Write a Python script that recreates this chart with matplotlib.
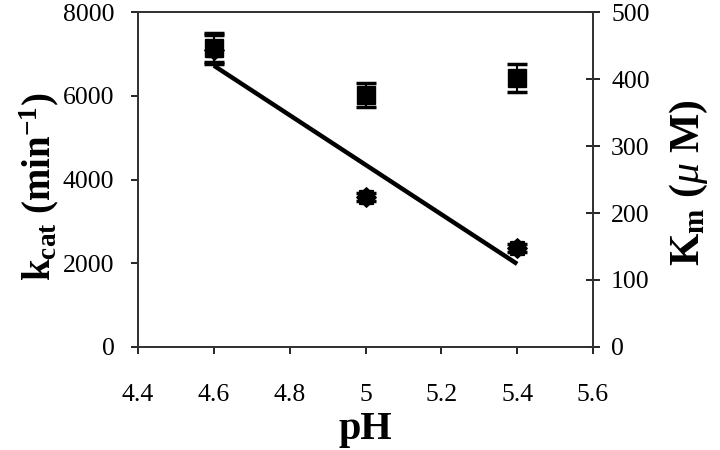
import numpy as np
import matplotlib
matplotlib.use("Agg")
import matplotlib.pyplot as plt
from matplotlib.path import Path

plt.rcParams["font.family"] = ["Liberation Serif", "DejaVu Serif"]
plt.rcParams["mathtext.fontset"] = "custom"
plt.rcParams["mathtext.rm"] = "Liberation Serif"
plt.rcParams["mathtext.it"] = "Liberation Serif:italic"
plt.rcParams["mathtext.bf"] = "Liberation Serif:bold"

# data
ph = [4.6, 5.0, 5.4]
kcat = [7150, 6010, 6420]          # min^-1, squares (left axis)
kcat_err = [340, 290, 330]
km = [444, 224, 148]               # uM, diamonds (right axis)
km_err = [21, 6, 6]

xticks = [4.4, 4.6, 4.8, 5.0, 5.2, 5.4, 5.6]
xtick_labels = ["4.4", "4.6", "4.8", "5", "5.2", "5.4", "5.6"]

fig = plt.figure(figsize=(7.2, 4.5), dpi=100)
ax = fig.add_axes([0.1917, 0.2289, 0.6319, 0.7444])
ax2 = ax.twinx()

star = Path.unit_regular_star(8, 0.78)

ax.errorbar(ph, kcat, yerr=kcat_err, fmt="s", color="black", ms=13,
            capsize=7, capthick=2.5, elinewidth=1.5, zorder=3)
ax2.errorbar(ph, km, yerr=km_err, fmt="none", ecolor="black",
             capsize=7, capthick=2.5, elinewidth=1.5, zorder=3)
ax2.plot(ph, km, linestyle="none", marker=star, color="black", ms=14)

# linear fit through the Km points
p = np.polyfit(ph, km, 1)
ax2.plot([ph[0], ph[-1]], np.polyval(p, [ph[0], ph[-1]]),
         color="black", lw=3.2, solid_capstyle="butt")

ax.set_xlim(4.4, 5.6)
ax.set_ylim(0, 8000)
ax2.set_ylim(0, 500)
ax.set_xticks(xticks)
ax.set_xticklabels(xtick_labels)
ax.set_yticks([0, 2000, 4000, 6000, 8000])
ax2.set_yticks([0, 100, 200, 300, 400, 500])

for a in (ax, ax2):
    for s in a.spines.values():
        s.set_linewidth(1.3)
        s.set_color("#333333")

ax.tick_params(axis="x", direction="out", length=5, width=1.2,
               labelsize=18.5, pad=22)
ax.tick_params(axis="y", direction="out", length=5, width=1.2,
               labelsize=18.5, pad=12)
ax2.tick_params(axis="y", direction="inout", length=10, width=1.2,
                labelsize=18.5, pad=8)

ax.set_xlabel("pH", fontsize=29, fontweight="bold")
ax.xaxis.set_label_coords(0.5, -0.19)
ax.set_ylabel(r"$\mathbf{k_{cat}}$ (min$\mathbf{^{-1}}$)", fontsize=28,
              fontweight="bold")
ax.yaxis.set_label_coords(-0.17, 0.48)
ax2.set_ylabel(r"$\mathbf{K_m}$ ($\mu$ M)", fontsize=30,
               fontweight="bold")
ax2.yaxis.set_label_coords(1.165, 0.49)

fig.savefig("out.png", dpi=100)
